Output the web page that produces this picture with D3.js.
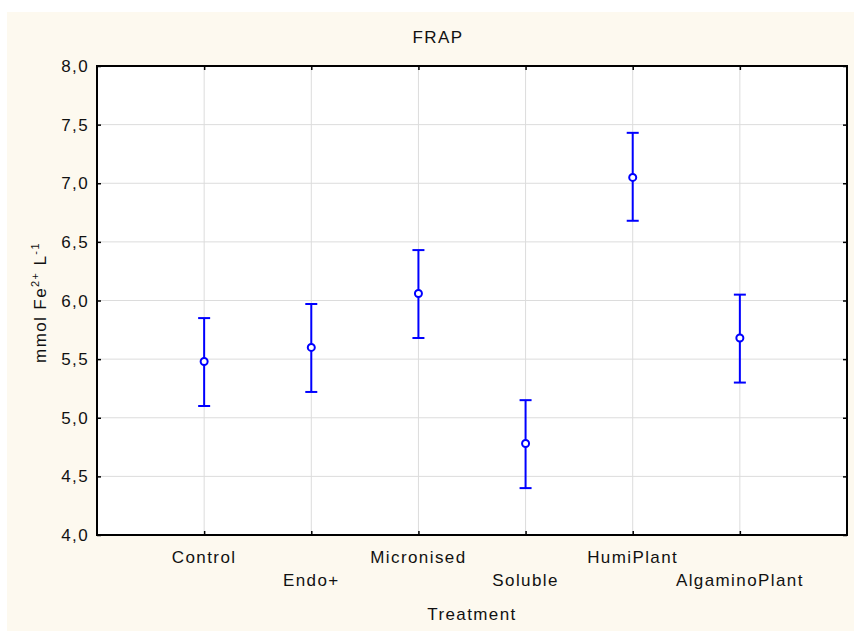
<!DOCTYPE html>
<html>
<head>
<meta charset="utf-8">
<script src="https://cdn.jsdelivr.net/npm/d3@7"></script>
<style>
  body { margin: 0; background: #fff; }
  text { font-family: "Liberation Sans", Arial, sans-serif; fill: #111; letter-spacing: 1.4px; }
</style>
</head>
<body>
<svg width="854" height="631"></svg>
<script>
var categories = ["Control", "Endo+", "Micronised", "Soluble", "HumiPlant", "AlgaminoPlant"];
var means = [5.48, 5.60, 6.06, 4.78, 7.05, 5.68];
var lower = [5.10, 5.22, 5.68, 4.40, 6.68, 5.30];
var upper = [5.85, 5.97, 6.43, 5.15, 7.43, 6.05];
var yTicks = [4.0, 4.5, 5.0, 5.5, 6.0, 6.5, 7.0, 7.5, 8.0];

var svg = d3.select("svg");
var m = { left: 97, right: 847, top: 66, bottom: 535 };
var fs = 17;

svg.append("rect")
    .attr("x", 7).attr("y", 12)
    .attr("width", 847).attr("height", 619)
    .attr("fill", "#fdf9ef");

var x = d3.scaleLinear().domain([0, categories.length + 1]).range([m.left, m.right]);
var y = d3.scaleLinear().domain([4, 8]).range([m.bottom, m.top]);

svg.append("rect")
    .attr("x", m.left).attr("y", m.top)
    .attr("width", m.right - m.left).attr("height", m.bottom - m.top)
    .attr("fill", "#fff");

// grid
svg.append("g").selectAll("line").data(yTicks).join("line")
    .attr("x1", m.left).attr("x2", m.right)
    .attr("y1", d => y(d)).attr("y2", d => y(d))
    .attr("stroke", "#dcdcdc");
svg.append("g").selectAll("line").data(categories).join("line")
    .attr("x1", (d, i) => x(i + 1)).attr("x2", (d, i) => x(i + 1))
    .attr("y1", m.top).attr("y2", m.bottom)
    .attr("stroke", "#dcdcdc");

// axes, ticks inside on all sides
var fmt = d => d3.format(".1f")(d).replace(".", ",");
var cat = d3.range(1, categories.length + 1);
svg.append("g").attr("transform", `translate(${m.left},0)`)
    .call(d3.axisRight(y).tickValues(yTicks).tickSize(4).tickFormat(""))
    .call(g => g.select(".domain").remove());
svg.append("g").attr("transform", `translate(${m.right},0)`)
    .call(d3.axisLeft(y).tickValues(yTicks).tickSize(4).tickFormat(""))
    .call(g => g.select(".domain").remove());
svg.append("g").attr("transform", `translate(0,${m.bottom})`)
    .call(d3.axisTop(x).tickValues(cat).tickSize(4).tickFormat(""))
    .call(g => g.select(".domain").remove());
svg.append("g").attr("transform", `translate(0,${m.top})`)
    .call(d3.axisBottom(x).tickValues(cat).tickSize(4).tickFormat(""))
    .call(g => g.select(".domain").remove());
svg.selectAll(".tick line").attr("stroke", "#000").attr("stroke-width", 1.5);

svg.append("rect")
    .attr("x", m.left).attr("y", m.top)
    .attr("width", m.right - m.left).attr("height", m.bottom - m.top)
    .attr("fill", "none").attr("stroke", "#000").attr("stroke-width", 2);

// tick labels
svg.append("g").selectAll("text").data(yTicks).join("text")
    .attr("x", m.left - 8).attr("y", d => y(d)).attr("dy", "0.36em")
    .attr("text-anchor", "end").attr("font-size", fs)
    .text(fmt);
svg.append("g").selectAll("text").data(categories).join("text")
    .attr("x", (d, i) => x(i + 1))
    .attr("y", (d, i) => i % 2 ? 586 : 563)
    .attr("text-anchor", "middle").attr("font-size", fs)
    .text(d => d);

// titles
svg.append("text").attr("x", 438).attr("y", 43)
    .attr("text-anchor", "middle").attr("font-size", fs).text("FRAP");
svg.append("text").attr("x", (m.left + m.right) / 2).attr("y", 620)
    .attr("text-anchor", "middle").attr("font-size", fs).text("Treatment");
var yl = svg.append("text")
    .attr("transform", `translate(46,${(m.top + m.bottom) / 2 + 2}) rotate(-90)`)
    .attr("text-anchor", "middle").attr("font-size", fs);
yl.append("tspan").text("mmol Fe");
yl.append("tspan").attr("font-size", 11).attr("dy", -7).text("2+");
yl.append("tspan").attr("dy", 7).text(" L");
yl.append("tspan").attr("font-size", 11).attr("dy", -7).text("-1");

// error bars
var pts = categories.map((c, i) => ({ c: c, i: i + 1, m: means[i], lo: lower[i], hi: upper[i] }));
var eb = svg.append("g").selectAll("g").data(pts).join("g")
    .attr("stroke", "#0000ff").attr("stroke-width", 2).attr("fill", "none");
eb.append("line")
    .attr("x1", d => x(d.i)).attr("x2", d => x(d.i))
    .attr("y1", d => y(d.lo)).attr("y2", d => y(d.hi));
eb.append("line")
    .attr("x1", d => x(d.i) - 6).attr("x2", d => x(d.i) + 6)
    .attr("y1", d => y(d.lo)).attr("y2", d => y(d.lo));
eb.append("line")
    .attr("x1", d => x(d.i) - 6).attr("x2", d => x(d.i) + 6)
    .attr("y1", d => y(d.hi)).attr("y2", d => y(d.hi));
eb.append("circle")
    .attr("cx", d => x(d.i)).attr("cy", d => y(d.m)).attr("r", 3.5)
    .attr("fill", "#fff");
</script>
</body>
</html>
